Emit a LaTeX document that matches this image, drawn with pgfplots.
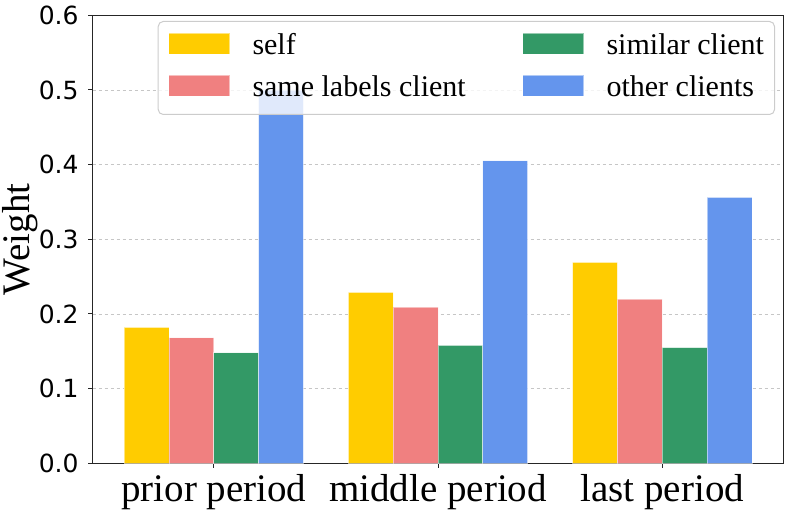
\documentclass[border=0pt]{standalone}
\usepackage{pgfplots}
\pgfplotsset{compat=1.18}
\usepackage{fontspec}
\setmainfont{Liberation Serif}
\newfontfamily\dejavu{DejaVu Sans}
\definecolor{cself}{HTML}{FFCC00}
\definecolor{csame}{HTML}{F08080}
\definecolor{csim}{HTML}{339966}
\definecolor{cother}{HTML}{6495ED}
\pgfplotsset{
  mybar/.style={fill=#1, draw=white, draw opacity=0.5, line width=0.8pt,
    legend image code/.code={\fill[#1, sharp corners, fill opacity=1] (0pt,-6.8pt) rectangle (60pt,13.2pt);}},
}
\begin{document}
\begin{tikzpicture}
\begin{axis}[
  scale only axis, width=690.6pt, height=448pt,
  ybar, bar width=0.2,
  xmin=-0.54, xmax=2.54, ymin=0, ymax=0.6,
  xtick={0,1,2}, xticklabels={prior period, middle period, last period},
  ytick={0,0.1,0.2,0.3,0.4,0.5,0.6},
  /pgf/number format/assume math mode=true,
  yticklabel style={/pgf/number format/fixed, /pgf/number format/fixed zerofill,
    /pgf/number format/precision=1, font=\dejavu\fontsize{25}{30}\selectfont,
    anchor=east, inner sep=0pt, xshift=-9.4pt},
  xticklabel style={font=\fontsize{39}{45}\selectfont, anchor=base, inner sep=0pt, yshift=-33.4pt},
  ylabel={Weight},
  ylabel style={font=\fontsize{39}{45}\selectfont, inner sep=0pt, at={(axis description cs:-0.0796,0.5)}, anchor=south},
  tick align=outside, major tick length=4.5pt,
  xtick pos=bottom, ytick pos=left,
  ymajorgrids, grid style={dashed, gray!45, line width=0.8pt},
  axis line style={black!85, line width=1.2pt},
  tick style={black!85, line width=1pt},
  legend columns=2, transpose legend, legend cell align=left,
  legend style={at={(rel axis cs:0.988,0.9873)}, anchor=north east,
    draw=gray!40, line width=1pt, fill=white, fill opacity=0.8, text opacity=1,
    rounded corners=5pt, inner xsep=10.5pt, inner ysep=11pt,
    font=\fontsize{30}{36}\selectfont, row sep=13pt,
    nodes={inner sep=0pt, text height=22pt, text depth=7pt},
    /tikz/every odd column/.append style={column sep=23pt},
    /tikz/every even column/.append style={column sep=57pt}},
]
\addplot[mybar=cself, bar shift=-0.3] coordinates {(0,0.182) (1,0.229) (2,0.269)};
\addplot[mybar=csame, bar shift=-0.1] coordinates {(0,0.168) (1,0.209) (2,0.220)};
\addplot[mybar=csim, bar shift=0.1] coordinates {(0,0.148) (1,0.158) (2,0.155)};
\addplot[mybar=cother, bar shift=0.3] coordinates {(0,0.500) (1,0.405) (2,0.356)};
\legend{self, same labels client, similar client, other clients}
\coordinate (bl) at (rel axis cs:0,0);
\coordinate (tr) at (rel axis cs:1,1);
\end{axis}
\pgfresetboundingbox
\path ([shift={(-92.7pt,-47.7pt)}]bl) rectangle ([shift={(5.7pt,15.3pt)}]tr);
\end{tikzpicture}
\end{document}
